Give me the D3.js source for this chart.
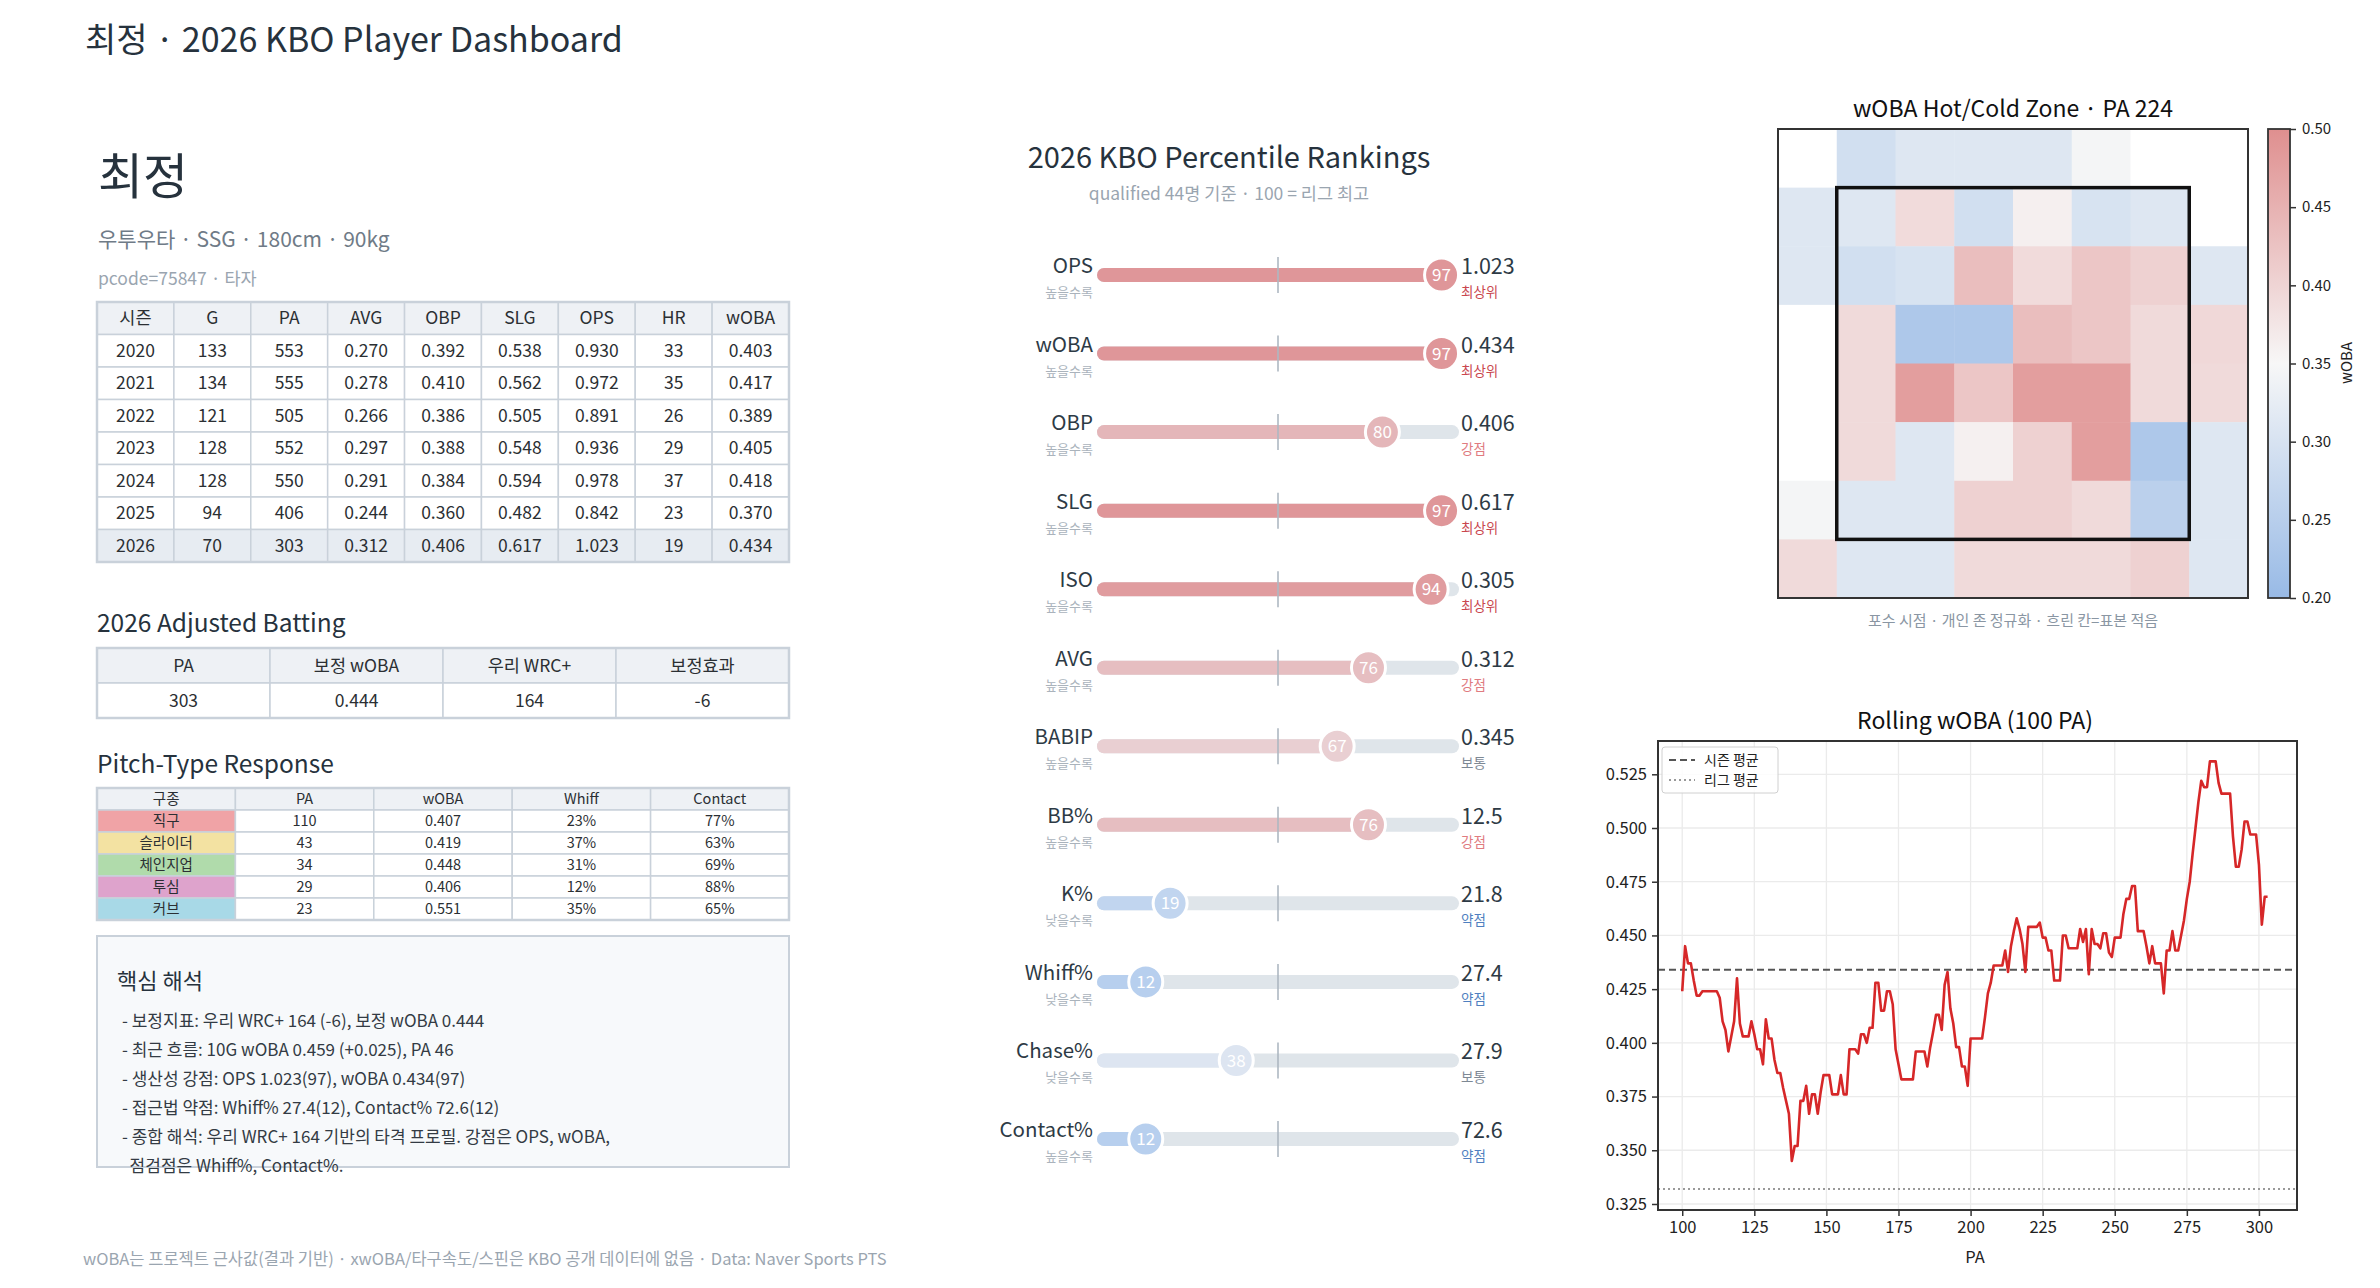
<!DOCTYPE html>
<html>
<head>
<meta charset="utf-8">
<script src="https://cdn.jsdelivr.net/npm/d3@7"></script>
<style>
  body { margin: 0; background: #fff; }
  text { font-family: "Noto Sans CJK KR", "Noto Sans", sans-serif; }
</style>
</head>
<body>
<svg id="chart" width="2380" height="1288"></svg>
<script>
// ---- data ----
const playerName = "최정";
const playerInfo = "우투우타 · SSG · 180cm · 90kg";
const playerCode = "pcode=75847 · 타자";

const seasonCols = ["시즌", "G", "PA", "AVG", "OBP", "SLG", "OPS", "HR", "wOBA"];
const seasonRows = [
  ["2020", "133", "553", "0.270", "0.392", "0.538", "0.930", "33", "0.403"],
  ["2021", "134", "555", "0.278", "0.410", "0.562", "0.972", "35", "0.417"],
  ["2022", "121", "505", "0.266", "0.386", "0.505", "0.891", "26", "0.389"],
  ["2023", "128", "552", "0.297", "0.388", "0.548", "0.936", "29", "0.405"],
  ["2024", "128", "550", "0.291", "0.384", "0.594", "0.978", "37", "0.418"],
  ["2025", "94", "406", "0.244", "0.360", "0.482", "0.842", "23", "0.370"],
  ["2026", "70", "303", "0.312", "0.406", "0.617", "1.023", "19", "0.434"]
];

const adjCols = ["PA", "보정 wOBA", "우리 WRC+", "보정효과"];
const adjRow = ["303", "0.444", "164", "-6"];

const pitchCols = ["구종", "PA", "wOBA", "Whiff", "Contact"];
const pitchTypes = ["직구", "슬라이더", "체인지업", "투심", "커브"];
const pitchPA = [110, 43, 34, 29, 23];
const pitchWoba = [0.407, 0.419, 0.448, 0.406, 0.551];
const pitchWhiff = [23, 37, 31, 12, 35];
const pitchContact = [77, 63, 69, 88, 65];
const pitchColors = ["#f0a3a6", "#f3e2a2", "#b0dbab", "#dea3cc", "#a8d9e7"];

const notes = [
  "- 보정지표: 우리 WRC+ 164 (-6), 보정 wOBA 0.444",
  "- 최근 흐름: 10G wOBA 0.459 (+0.025), PA 46",
  "- 생산성 강점: OPS 1.023(97), wOBA 0.434(97)",
  "- 접근법 약점: Whiff% 27.4(12), Contact% 72.6(12)",
  "- 종합 해석: 우리 WRC+ 164 기반의 타격 프로필. 강점은 OPS, wOBA,",
  "  점검점은 Whiff%, Contact%."
];

const metrics = ["OPS", "wOBA", "OBP", "SLG", "ISO", "AVG", "BABIP", "BB%", "K%", "Whiff%", "Chase%", "Contact%"];
const pctls = [97, 97, 80, 97, 94, 76, 67, 76, 19, 12, 38, 12];
const metricValues = ["1.023", "0.434", "0.406", "0.617", "0.305", "0.312", "0.345", "12.5", "21.8", "27.4", "27.9", "72.6"];
const directions = ["높을수록", "높을수록", "높을수록", "높을수록", "높을수록", "높을수록", "높을수록", "높을수록", "낮을수록", "낮을수록", "낮을수록", "높을수록"];
const tiers = ["최상위", "최상위", "강점", "최상위", "최상위", "강점", "보통", "강점", "약점", "약점", "보통", "약점"];
const tierColors = { "최상위": "#c9474f", "강점": "#e07b80", "보통": "#7d8894", "약점": "#4f7fc0" };

// zone grid, catcher view, rows top->bottom (null = no data)
const zoneValues = [
  [null, 0.290, 0.310, 0.310, 0.310, 0.345, null, null],
  [0.310, 0.310, 0.390, 0.290, 0.362, 0.300, 0.310, null],
  [0.310, 0.290, 0.300, 0.432, 0.390, 0.420, 0.405, 0.310],
  [null, 0.392, 0.235, 0.235, 0.432, 0.420, 0.392, 0.395],
  [null, 0.392, 0.478, 0.420, 0.478, 0.478, 0.392, 0.392],
  [null, 0.392, 0.310, 0.360, 0.405, 0.478, 0.235, 0.310],
  [0.345, 0.310, 0.310, 0.405, 0.405, 0.392, 0.255, 0.310],
  [0.392, 0.310, 0.310, 0.392, 0.392, 0.392, 0.405, 0.310]
];

const rollStart = 100;
const rollWoba = [
  0.424, 0.445, 0.437, 0.437, 0.429, 0.422, 0.422, 0.424, 0.424, 0.424,
  0.424, 0.424, 0.424, 0.421, 0.410, 0.406, 0.396, 0.403, 0.410, 0.430,
  0.409, 0.403, 0.403, 0.403, 0.410, 0.404, 0.397, 0.397, 0.390, 0.411,
  0.402, 0.402, 0.392, 0.386, 0.386, 0.379, 0.373, 0.367, 0.345, 0.352,
  0.352, 0.373, 0.373, 0.380, 0.367, 0.376, 0.376, 0.367, 0.377, 0.385,
  0.385, 0.385, 0.376, 0.376, 0.376, 0.385, 0.376, 0.376, 0.397, 0.397,
  0.397, 0.395, 0.404, 0.404, 0.400, 0.407, 0.407, 0.428, 0.428, 0.415,
  0.415, 0.424, 0.424, 0.418, 0.397, 0.390, 0.383, 0.383, 0.383, 0.383,
  0.383, 0.396, 0.396, 0.396, 0.396, 0.389, 0.398, 0.405, 0.413, 0.413,
  0.406, 0.427, 0.433, 0.416, 0.409, 0.398, 0.398, 0.389, 0.389, 0.380,
  0.402, 0.402, 0.402, 0.402, 0.402, 0.412, 0.423, 0.428, 0.436, 0.436,
  0.436, 0.436, 0.443, 0.433, 0.445, 0.452, 0.458, 0.453, 0.446, 0.433,
  0.454, 0.454, 0.454, 0.454, 0.456, 0.449, 0.449, 0.443, 0.443, 0.429,
  0.429, 0.429, 0.450, 0.450, 0.444, 0.444, 0.444, 0.444, 0.453, 0.447,
  0.453, 0.432, 0.453, 0.446, 0.446, 0.444, 0.451, 0.451, 0.442, 0.440,
  0.449, 0.449, 0.449, 0.460, 0.467, 0.467, 0.473, 0.473, 0.452, 0.452,
  0.452, 0.445, 0.437, 0.445, 0.437, 0.437, 0.437, 0.423, 0.443, 0.443,
  0.452, 0.443, 0.443, 0.450, 0.457, 0.467, 0.475, 0.488, 0.500, 0.512,
  0.522, 0.519, 0.519, 0.531, 0.531, 0.531, 0.521, 0.516, 0.516, 0.516,
  0.516, 0.496, 0.482, 0.482, 0.490, 0.503, 0.503, 0.497, 0.497, 0.497,
  0.483, 0.455, 0.468, 0.468
];
const seasonAvg = 0.434;
const leagueAvg = 0.332;

const footer = "wOBA는 프로젝트 근사값(결과 기반) · xwOBA/타구속도/스핀은 KBO 공개 데이터에 없음 · Data: Naver Sports PTS";

// ---- page ----
const svg = d3.select("#chart");
svg.append("rect").attr("width", 2380).attr("height", 1288).attr("fill", "#fff");

const ink = "#26323d";
const gray = "#6f7b87";
const light = "#9aa5b0";
const border = "#c9d1da";

svg.append("text").attr("x", 85).attr("y", 52)
  .attr("font-size", 34).attr("fill", ink)
  .text(`${playerName} · 2026 KBO Player Dashboard`);

// ---- left panel ----
const left = svg.append("g");
left.append("text").attr("x", 98).attr("y", 194).attr("font-size", 49).attr("fill", ink).text(playerName);
left.append("text").attr("x", 98).attr("y", 247).attr("font-size", 21).attr("fill", gray).text(playerInfo);
left.append("text").attr("x", 98).attr("y", 285).attr("font-size", 17.5).attr("fill", light).text(playerCode);

function drawTable(g, x0, x1, y0, rowH, cols, rows, fontSize, rowFill) {
  const x = d3.scaleBand().domain(d3.range(cols.length)).range([x0, x1]);
  const all = [cols].concat(rows);
  const y = d3.scaleBand().domain(d3.range(all.length)).range([y0, y0 + rowH * all.length]);
  all.forEach((r, ri) => {
    r.forEach((v, ci) => {
      g.append("rect")
        .attr("x", x(ci)).attr("y", y(ri))
        .attr("width", x.bandwidth()).attr("height", y.bandwidth())
        .attr("fill", rowFill(ri, ci))
        .attr("stroke", border).attr("stroke-width", 1.5);
      g.append("text")
        .attr("x", x(ci) + x.bandwidth() / 2)
        .attr("y", y(ri) + y.bandwidth() / 2)
        .attr("dy", "0.35em")
        .attr("text-anchor", "middle")
        .attr("font-size", fontSize).attr("fill", "#2b2f33")
        .text(v);
    });
  });
  g.append("rect").attr("x", x0).attr("y", y0)
    .attr("width", x1 - x0).attr("height", rowH * all.length)
    .attr("fill", "none").attr("stroke", border).attr("stroke-width", 2.5);
}

drawTable(left.append("g"), 97, 789, 302, 32.5, seasonCols, seasonRows, 17.5,
  (ri) => ri === 0 ? "#eef1f5" : (ri === seasonRows.length ? "#e7ecf2" : "#fff"));

left.append("text").attr("x", 97).attr("y", 632).attr("font-size", 24.5).attr("fill", ink).text("2026 Adjusted Batting");
drawTable(left.append("g"), 97, 789, 648, 35, adjCols, [adjRow], 17.5,
  (ri) => ri === 0 ? "#eef1f5" : "#fff");

left.append("text").attr("x", 97).attr("y", 773).attr("font-size", 24.5).attr("fill", ink).text("Pitch-Type Response");
const pitchRows = pitchTypes.map((p, i) => [
  p, String(pitchPA[i]), pitchWoba[i].toFixed(3), pitchWhiff[i] + "%", pitchContact[i] + "%"
]);
drawTable(left.append("g"), 97, 789, 788, 22, pitchCols, pitchRows, 14.5,
  (ri, ci) => ri === 0 ? "#eef1f5" : (ci === 0 ? pitchColors[ri - 1] : "#fff"));

// notes box
left.append("rect").attr("x", 97).attr("y", 936).attr("width", 692).attr("height", 231)
  .attr("fill", "#f7f9fb").attr("stroke", border).attr("stroke-width", 2);
left.append("text").attr("x", 117).attr("y", 989).attr("font-size", 22).attr("fill", ink).text("핵심 해석");
const noteY = d3.scalePoint().domain(d3.range(notes.length)).range([1027, 1172]);
left.selectAll(".note").data(notes).join("text")
  .attr("class", "note")
  .attr("x", 122).attr("y", (d, i) => noteY(i))
  .attr("font-size", 17).attr("fill", "#333b44")
  .attr("xml:space", "preserve")
  .style("white-space", "pre")
  .text(d => d);

svg.append("text").attr("x", 83).attr("y", 1265).attr("font-size", 16.5).attr("fill", light).text(footer);

// ---- percentile panel ----
const pg = svg.append("g");
pg.append("text").attr("x", 1229).attr("y", 168).attr("text-anchor", "middle")
  .attr("font-size", 29).attr("fill", ink).text("2026 KBO Percentile Rankings");
pg.append("text").attr("x", 1229).attr("y", 200).attr("text-anchor", "middle")
  .attr("font-size", 17.5).attr("fill", light).text("qualified 44명 기준 · 100 = 리그 최고");

const px = d3.scaleLinear().domain([0, 100]).range([1104, 1452]);
const py = d3.scalePoint().domain(metrics).range([275, 1139]);
const pColor = d3.scaleLinear().domain([0, 50, 100]).range(["#a6c4ec", "#eef0f3", "#de9093"]);

metrics.forEach((m, i) => {
  const y = py(m);
  const g = pg.append("g");
  g.append("line").attr("x1", px(0)).attr("x2", px(100)).attr("y1", y).attr("y2", y)
    .attr("stroke", "#dfe5ea").attr("stroke-width", 14).attr("stroke-linecap", "round");
  g.append("line").attr("x1", px(0)).attr("x2", px(pctls[i])).attr("y1", y).attr("y2", y)
    .attr("stroke", pColor(pctls[i])).attr("stroke-width", 14).attr("stroke-linecap", "round");
  g.append("line").attr("x1", px(50)).attr("x2", px(50)).attr("y1", y - 18).attr("y2", y + 18)
    .attr("stroke", "#aeb8c2").attr("stroke-width", 2).attr("opacity", 0.8);
  g.append("circle").attr("cx", px(pctls[i])).attr("cy", y).attr("r", 17)
    .attr("fill", pColor(pctls[i])).attr("stroke", "#fff").attr("stroke-width", 3);
  g.append("text").attr("x", px(pctls[i])).attr("y", y).attr("dy", "0.36em")
    .attr("text-anchor", "middle").attr("font-size", 17).attr("fill", "#fff").text(pctls[i]);
  g.append("text").attr("x", 1093).attr("y", y - 2).attr("text-anchor", "end")
    .attr("font-size", 20.5).attr("fill", "#2d3a45").text(m);
  g.append("text").attr("x", 1093).attr("y", y + 22).attr("text-anchor", "end")
    .attr("font-size", 13).attr("fill", "#aab3bc").text(directions[i]);
  g.append("text").attr("x", 1461).attr("y", y - 1)
    .attr("font-size", 21.5).attr("fill", "#2d3a45").text(metricValues[i]);
  g.append("text").attr("x", 1461).attr("y", y + 22)
    .attr("font-size", 13.5).attr("fill", tierColors[tiers[i]]).text(tiers[i]);
});

// ---- heatmap ----
const hg = svg.append("g");
const hx = d3.scaleBand().domain(d3.range(8)).range([1778, 2248]);
const hy = d3.scaleBand().domain(d3.range(8)).range([129, 598]);
const hColor = d3.scaleLinear().domain([0.2, 0.35, 0.5]).range(["#98bae6", "#f7f7f7", "#df8f8f"]).clamp(true);

hg.append("text").attr("x", 2013).attr("y", 117).attr("text-anchor", "middle")
  .attr("font-size", 23).attr("fill", "#111").text("wOBA Hot/Cold Zone · PA 224");

zoneValues.forEach((row, r) => {
  row.forEach((v, c) => {
    hg.append("rect")
      .attr("x", hx(c)).attr("y", hy(r))
      .attr("width", hx.bandwidth() + 0.5).attr("height", hy.bandwidth() + 0.5)
      .attr("fill", v === null ? "#fff" : hColor(v));
  });
});
hg.append("rect").attr("x", 1778).attr("y", 129).attr("width", 470).attr("height", 469)
  .attr("fill", "none").attr("stroke", "#333").attr("stroke-width", 2);
hg.append("rect")
  .attr("x", hx(1)).attr("y", hy(1))
  .attr("width", hx(7) - hx(1)).attr("height", hy(7) - hy(1))
  .attr("fill", "none").attr("stroke", "#111").attr("stroke-width", 3.5);
hg.append("text").attr("x", 2013).attr("y", 626).attr("text-anchor", "middle")
  .attr("font-size", 15).attr("fill", "#8a96a3").text("포수 시점 · 개인 존 정규화 · 흐린 칸=표본 적음");

// colorbar
const defs = svg.append("defs");
const grad = defs.append("linearGradient").attr("id", "cbar")
  .attr("x1", 0).attr("y1", 1).attr("x2", 0).attr("y2", 0);
hColor.domain().forEach((d, i) => {
  grad.append("stop").attr("offset", (d - 0.2) / 0.3).attr("stop-color", hColor.range()[i]);
});
const cy = d3.scaleLinear().domain([0.2, 0.5]).range([598, 129]);
hg.append("rect").attr("x", 2268).attr("y", 129).attr("width", 22).attr("height", 469)
  .attr("fill", "url(#cbar)").attr("stroke", "#333").attr("stroke-width", 1.8);
const cAxis = hg.append("g").attr("transform", "translate(2290,0)")
  .call(d3.axisRight(cy).tickValues([0.2, 0.25, 0.3, 0.35, 0.4, 0.45, 0.5]).tickFormat(d3.format(".2f")).tickSize(6));
cAxis.select(".domain").remove();
cAxis.selectAll("text").attr("font-size", 15).attr("fill", "#222").attr("x", 12);
cAxis.selectAll("line").attr("stroke", "#333").attr("stroke-width", 1.5);
hg.append("text").attr("transform", "translate(2352,363) rotate(-90)")
  .attr("text-anchor", "middle").attr("font-size", 15).attr("fill", "#222").text("wOBA");

// ---- rolling wOBA ----
const rg = svg.append("g");
const rollData = rollWoba.map((v, i) => ({ pa: rollStart + i, woba: v }));
const rx = d3.scaleLinear().domain([91.6, 313.2]).range([1658, 2297]);
const ry = d3.scaleLinear().domain([0.3222, 0.5405]).range([1210, 741]);
const xTicks = [100, 125, 150, 175, 200, 225, 250, 275, 300];
const yTicks = [0.325, 0.35, 0.375, 0.4, 0.425, 0.45, 0.475, 0.5, 0.525];

rg.append("text").attr("x", 1975).attr("y", 729).attr("text-anchor", "middle")
  .attr("font-size", 23).attr("fill", "#111").text("Rolling wOBA (100 PA)");

rg.selectAll(".gx").data(xTicks).join("line").attr("class", "gx")
  .attr("x1", d => rx(d)).attr("x2", d => rx(d)).attr("y1", 741).attr("y2", 1210)
  .attr("stroke", "#ebebeb").attr("stroke-width", 1.3);
rg.selectAll(".gy").data(yTicks).join("line").attr("class", "gy")
  .attr("x1", 1658).attr("x2", 2297).attr("y1", d => ry(d)).attr("y2", d => ry(d))
  .attr("stroke", "#ebebeb").attr("stroke-width", 1.3);

rg.append("line").attr("x1", 1658).attr("x2", 2297).attr("y1", ry(seasonAvg)).attr("y2", ry(seasonAvg))
  .attr("stroke", "#555").attr("stroke-width", 2).attr("stroke-dasharray", "7,4");
rg.append("line").attr("x1", 1658).attr("x2", 2297).attr("y1", ry(leagueAvg)).attr("y2", ry(leagueAvg))
  .attr("stroke", "#999").attr("stroke-width", 2).attr("stroke-dasharray", "2,3");

rg.append("path").datum(rollData)
  .attr("fill", "none").attr("stroke", "#d62728").attr("stroke-width", 2.6)
  .attr("stroke-linejoin", "round")
  .attr("d", d3.line().x(d => rx(d.pa)).y(d => ry(d.woba)));

const xAxis = rg.append("g").attr("transform", "translate(0,1210)")
  .call(d3.axisBottom(rx).tickValues(xTicks).tickSize(6).tickPadding(5));
const yAxis = rg.append("g").attr("transform", "translate(1658,0)")
  .call(d3.axisLeft(ry).tickValues(yTicks).tickFormat(d3.format(".3f")).tickSize(6).tickPadding(5));
[xAxis, yAxis].forEach(a => {
  a.select(".domain").remove();
  a.selectAll("text").attr("font-size", 16.5).attr("fill", "#222");
  a.selectAll("line").attr("stroke", "#333").attr("stroke-width", 1.5);
});
rg.append("rect").attr("x", 1658).attr("y", 741).attr("width", 639).attr("height", 469)
  .attr("fill", "none").attr("stroke", "#333").attr("stroke-width", 2);
rg.append("text").attr("x", 1975).attr("y", 1263).attr("text-anchor", "middle")
  .attr("font-size", 16.5).attr("fill", "#222").text("PA");

// legend
const lg = rg.append("g").attr("transform", "translate(1662,747)");
lg.append("rect").attr("width", 116).attr("height", 46).attr("rx", 3)
  .attr("fill", "#fff").attr("fill-opacity", 0.85).attr("stroke", "#d0d0d0");
const legendItems = [
  { label: "시즌 평균", color: "#555", dash: "7,4" },
  { label: "리그 평균", color: "#999", dash: "2,3" }
];
legendItems.forEach((d, i) => {
  lg.append("line").attr("x1", 7).attr("x2", 33).attr("y1", 13 + i * 20).attr("y2", 13 + i * 20)
    .attr("stroke", d.color).attr("stroke-width", 2).attr("stroke-dasharray", d.dash);
  lg.append("text").attr("x", 42).attr("y", 13 + i * 20).attr("dy", "0.35em")
    .attr("font-size", 14).attr("fill", "#222").text(d.label);
});
</script>
</body>
</html>
